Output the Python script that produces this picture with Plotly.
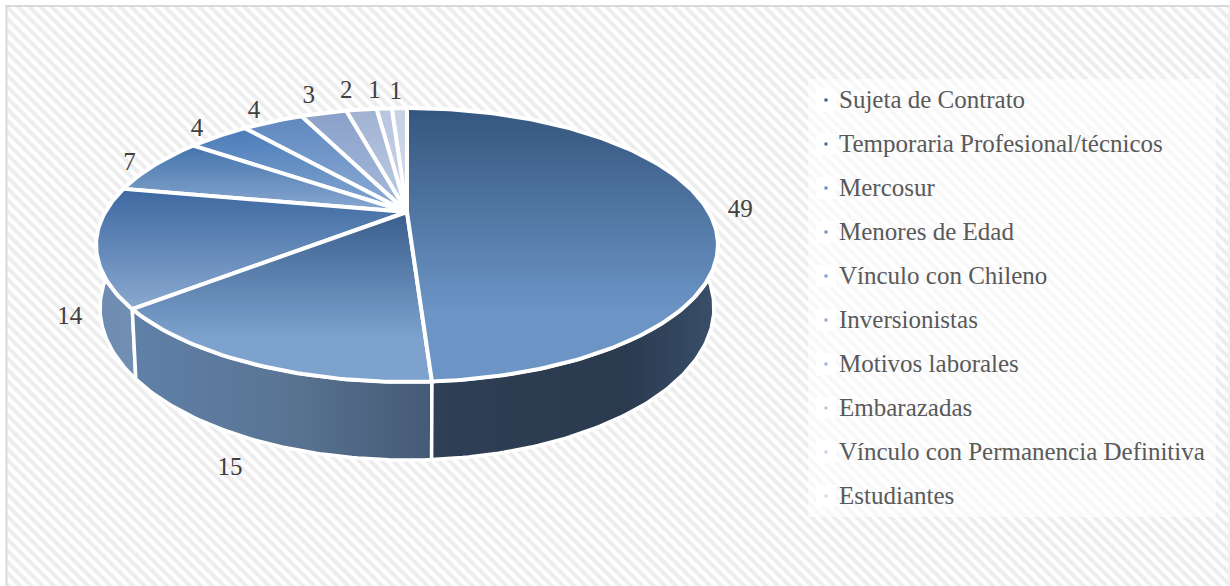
import math
import plotly.graph_objects as go

# ---- data ----
categories = ["Sujeta de Contrato", "Temporaria Profesional/técnicos", "Mercosur", "Menores de Edad",
              "Vínculo con Chileno", "Inversionistas", "Motivos laborales", "Embarazadas",
              "Vínculo con Permanencia Definitiva", "Estudiantes"]
values = [49, 15, 14, 7, 4, 4, 3, 2, 1, 1]
top_from = ["#34567e", "#3a5e8c", "#3d68a0", "#4474ac", "#4a7cb8", "#5f88c0", "#8aa0c8", "#a0b2d2", "#b7c5de", "#c6d1e4"]
top_to = ["#6c95c6", "#7ea2ce", "#8aa9d0", "#8aa9d0", "#86a8d2", "#8cacd4", "#a6bbdb", "#bfcde3", "#c8d4e6", "#d2dbea"]
wall_colors = {
    0: ["#3a4f6a", "#2a3a4f", "#2c3c51", "#2f4056"],
    1: ["#5f80a8", "#5a7594", "#455a75"],
    2: ["#6d8bb0", "#7290b2"],
}
legend_colors = ["#34567e", "#3f6aa0", "#5f88c0", "#6a8fc4", "#7a9bcc", "#8aa6d2", "#9db3d8", "#b4c4e0", "#c4d0e6", "#d2dbea"]

# ---- layout geometry (pixels) ----
W, H = 1230, 586
CX, PIVOT_Y = 407, 212
PERSP = 0.2409
RX, RY = 301.8, 129.0
DEPTH = 59.3
BASE_SHRINK = 0.987
ELL_CY = 245
LABEL_GAP = 28
LABEL_DY = 6
LEGEND_TOP, LEGEND_STEP = 100, 44
label_nudge_x = [6, -8, -3, 2, 3, 2, 0, -6, -5, -2]
label_nudge_y = [0, 1, -3, 1, 2, 3, 1, 3, 5, 7]


def project(frac, base=False, r=1.0):
    t = 2 * math.pi * frac
    u, v = r * math.sin(t), r * math.cos(t)
    w = 1 + PERSP * v
    x, y = RX * u / w, -RY * v / w
    if base:
        return CX + x * BASE_SHRINK, PIVOT_Y + y + DEPTH / w
    return CX + x, PIVOT_Y + y


def arc(f0, f1, base=False):
    n = max(4, int(abs(f1 - f0) * 400))
    return [project(f0 + (f1 - f0) * i / n, base) for i in range(n + 1)]


def scale(cols):
    return [[i / (len(cols) - 1), c] for i, c in enumerate(cols)]


total = sum(values)
starts = []
acc = 0
for val in values:
    starts.append(acc / total)
    acc += val

fig = go.Figure()

# hatched chart area
fig.add_trace(go.Bar(x=[(7 + 1228) / 2], width=[1221], base=[6], y=[H - 6],
                     marker=dict(color="#ffffff", line=dict(width=0),
                                 pattern=dict(shape="\\", size=8, solidity=0.5, fgcolor="#dcdcdc", bgcolor="#ffffff")),
                     hoverinfo="skip", showlegend=False))
# translucent panel behind the legend
fig.add_trace(go.Bar(x=[(808 + 1216) / 2], width=[408], base=[79], y=[438],
                     marker=dict(color="rgba(255,255,255,0.6)", line=dict(width=0)),
                     hoverinfo="skip", showlegend=False))

ys = [LEGEND_TOP + LEGEND_STEP * i for i in range(len(categories))]
fig.add_trace(go.Bar(x=[826] * len(ys), width=[20] * len(ys), base=[y - 11 for y in ys], y=[22] * len(ys),
                     marker=dict(color="rgba(255,255,255,0.9)", line=dict(width=0)),
                     hoverinfo="skip", showlegend=False))

# walls
for i in sorted(wall_colors, reverse=True):
    f0 = starts[i]
    f1 = f0 + values[i] / total
    if i == 0:
        f0 = 0.2
    if i == 2:
        f1 = 0.75
    top = arc(f0, f1)
    bot = arc(f1, f0, True)
    pts = top + bot + [top[0]]
    fig.add_trace(go.Scatter(x=[p[0] for p in pts], y=[p[1] for p in pts], mode="lines", fill="toself",
                             line=dict(color="#ffffff", width=3.5),
                             fillgradient=dict(type="horizontal",
                                               colorscale=scale(wall_colors[i] if i else wall_colors[i][::-1])),
                             hoverinfo="skip", showlegend=False))

# top faces
for i in range(len(values) - 1, -1, -1):
    f0 = starts[i]
    f1 = f0 + values[i] / total
    pts = [(CX, PIVOT_Y)] + arc(f0, f1) + [(CX, PIVOT_Y)]
    stop = 0.25 if i < 2 else 0.0
    fig.add_trace(go.Scatter(x=[p[0] for p in pts], y=[p[1] for p in pts], mode="lines", fill="toself",
                             line=dict(color="#ffffff", width=4),
                             fillgradient=dict(type="vertical",
                                               colorscale=[[0, top_to[i]], [stop, top_to[i]], [1, top_from[i]]]),
                             name=categories[i], text=f"{categories[i]}: {values[i]}", hoverinfo="text",
                             showlegend=False))

# data labels
lx, ly = [], []
for i, val in enumerate(values):
    mid = starts[i] + val / total / 2
    front = math.cos(2 * math.pi * mid) < 0.0
    px, py = project(mid, base=front and mid > 0.3)
    dx, dy = px - CX, py - ELL_CY
    d = math.hypot(dx, dy)
    lx.append(px + dx / d * LABEL_GAP + label_nudge_x[i])
    ly.append(py + dy / d * LABEL_GAP + LABEL_DY + label_nudge_y[i])
fig.add_trace(go.Scatter(x=lx, y=ly, mode="text", text=[str(v) for v in values], textposition="middle center",
                         textfont=dict(family="Liberation Serif", size=25, color="#404040"),
                         hoverinfo="skip", showlegend=False))

# legend
fig.add_trace(go.Scatter(x=[826] * len(ys), y=ys, mode="markers",
                         marker=dict(symbol="square", size=3, color=legend_colors, line=dict(width=0)),
                         hoverinfo="skip", showlegend=False))
fig.add_trace(go.Scatter(x=[839] * len(ys), y=[y + 2 for y in ys], mode="text", text=categories,
                         textposition="middle right",
                         textfont=dict(family="Liberation Serif", size=25, color="#595959"),
                         hoverinfo="skip", showlegend=False))

shapes = [
    dict(type="line", x0=6.5, x1=6.5, y0=5, y1=H, line=dict(color="#d9d9d9", width=2), layer="above"),
    dict(type="line", x0=5, x1=W, y0=6, y1=6, line=dict(color="#d9d9d9", width=2), layer="above"),
    dict(type="line", x0=1229, x1=1229, y0=5, y1=H, line=dict(color="#e3e3e3", width=1), layer="above"),
]

fig.update_layout(width=W, height=H, margin=dict(l=0, r=0, t=0, b=0), paper_bgcolor="#ffffff",
                  plot_bgcolor="#ffffff", showlegend=False, shapes=shapes, bargap=0, barmode="overlay",
                  xaxis=dict(range=[0, W], visible=False, fixedrange=True),
                  yaxis=dict(range=[H, 0], visible=False, fixedrange=True))
fig.write_html("out.html", post_script="document.body.style.margin='0';", config=dict(displayModeBar=False))
